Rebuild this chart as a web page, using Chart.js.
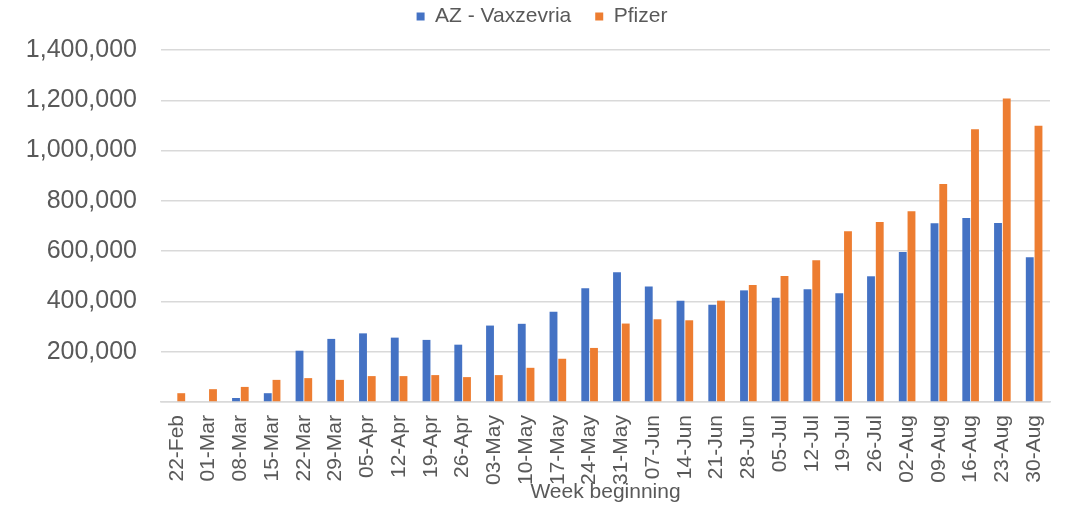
<!DOCTYPE html>
<html>
<head>
<meta charset="utf-8">
<script src="https://cdn.jsdelivr.net/npm/chart.js@4/dist/chart.umd.min.js"></script>
<style>
  html, body { margin: 0; padding: 0; background: #fff; }
  #wrap { width: 1066px; height: 505px; }
</style>
</head>
<body>
<div id="wrap"><canvas id="myChart"></canvas></div>
<script>
let weeks = ['22-Feb', '01-Mar', '08-Mar', '15-Mar', '22-Mar', '29-Mar', '05-Apr', '12-Apr', '19-Apr', '26-Apr',
    '03-May', '10-May', '17-May', '24-May', '31-May', '07-Jun', '14-Jun', '21-Jun', '28-Jun', '05-Jul',
    '12-Jul', '19-Jul', '26-Jul', '02-Aug', '09-Aug', '16-Aug', '23-Aug', '30-Aug'];
let azValues = [0, 0, 16000, 35000, 204000, 251000, 273000, 256000, 247000, 228000,
    304000, 311000, 359000, 452000, 516000, 459000, 403000, 387000, 444000, 415000,
    448000, 433000, 500000, 597000, 711000, 732000, 712000, 576000];
let pfizerValues = [35000, 51000, 60000, 88000, 95000, 88000, 103000, 103000, 107000, 99000,
    107000, 136000, 172000, 215000, 312000, 329000, 325000, 403000, 465000, 501000,
    564000, 679000, 716000, 759000, 867000, 1085000, 1207000, 1099000];
let yTicks = [0, 200000, 400000, 600000, 800000, 1000000, 1200000, 1400000];

Chart.defaults.font.family = "'Liberation Sans', Arial, sans-serif";
Chart.defaults.color = '#595959';

// fixed legend height so the plot starts where the original does,
// and nudge the legend a bit right/down like the excel one
let legendSpace = {
    id: 'legendSpace',
    beforeInit(chart) {
        let fit = chart.legend.fit;
        chart.legend.fit = function () {
            fit.call(this);
            this.height = 71;
        };
        let draw = chart.legend.draw;
        chart.legend.draw = function () {
            this.ctx.save();
            this.ctx.translate(17, 3);
            draw.call(this);
            this.ctx.restore();
        };
    }
};

let ctx = document.getElementById('myChart').getContext('2d');
let chart = new Chart(ctx, {
    type: 'bar',
    data: {
        labels: weeks,
        datasets: [{
            label: 'AZ - Vaxzevria',
            backgroundColor: '#4472C4',
            data: azValues,
        }, {
            label: 'Pfizer',
            backgroundColor: '#ED7D31',
            data: pfizerValues,
        }]
    },
    plugins: [legendSpace],
    options: {
        responsive: true,
        maintainAspectRatio: false,
        animation: false,
        categoryPercentage: 0.55,
        barPercentage: 0.9,
        layout: { padding: { top: -21, right: 16, left: 0, bottom: 0 } },
        plugins: {
            legend: {
                position: 'top',
                labels: {
                    boxWidth: 8,
                    boxHeight: 8,
                    padding: 24,
                    font: { size: 21 },
                    color: '#595959'
                }
            },
            tooltip: { enabled: false }
        },
        scales: {
            x: {
                grid: { display: false, drawTicks: false },
                border: { color: '#d9d9d9', width: 1.5 },
                ticks: {
                    autoSkip: false,
                    minRotation: 90,
                    maxRotation: 90,
                    padding: 13,
                    font: { size: 21 }
                },
                title: {
                    display: true,
                    text: 'Week beginning',
                    font: { size: 21 },
                    padding: 0
                },
                afterFit: (scale) => {
                    scale.height = 103;
                    scale.paddingRight = 0;
                }
            },
            y: {
                min: 0,
                max: 1400000,
                afterBuildTicks: (scale) => { scale.ticks = yTicks.map(v => ({ value: v })); },
                grid: { color: '#d9d9d9', lineWidth: 1.5, drawTicks: false },
                border: { display: false },
                ticks: {
                    autoSkip: false,
                    padding: 24,
                    font: { size: 25, lineHeight: 1 },
                    // the original leaves the zero tick without a label
                    callback: (v) => v === 0 ? '' : v.toLocaleString('en-US')
                },
                afterFit: (scale) => { scale.width = 161; }
            }
        }
    }
});
</script>
</body>
</html>
